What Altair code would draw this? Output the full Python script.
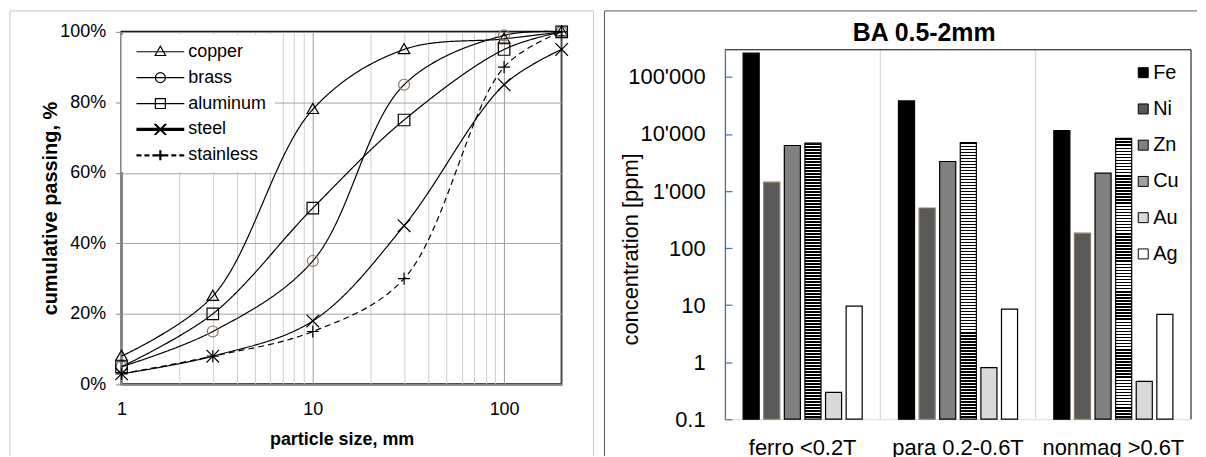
import altair as alt
import pandas as pd

# ---------------- data: left panel (particle size distribution) ----------------
sizes = [1, 3, 10, 30, 100, 200]
series = ["copper", "brass", "aluminum", "steel", "stainless"]
copper = [8, 25, 78, 95, 98, 100]
brass = [5, 15, 35, 85, 99, 100]
aluminum = [5, 20, 50, 75, 95, 100]
steel = [3, 8, 18, 45, 85, 95]
stainless = [3, 8, 15, 30, 90, 100]

# ---------------- data: right panel (BA 0.5-2mm concentrations) ----------------
groups = ["ferro <0.2T", "para 0.2-0.6T", "nonmag >0.6T"]
elements = ["Fe", "Ni", "Zn", "Cu", "Au", "Ag"]
fe = [262000, 38000, 11500]
ni = [1430, 505, 183]
zn = [6300, 3300, 2060]
cu = [6900, 7100, 8400]
au = [0.295, 0.80, 0.46]
ag = [9.6, 8.5, 6.9]

x_ticks = [1, 2, 3, 4, 5, 6, 7, 8, 9, 10, 20, 30, 40, 50, 60, 70, 80, 90, 100, 200]
y_ticks = [0, 0.2, 0.4, 0.6, 0.8, 1.0]
log_ticks = [0.1, 1, 10, 100, 1000, 10000, 100000]
conc_domain = [0.1, 300000]
title_text = "BA 0.5-2mm"

FONT = "Liberation Sans"

rows = []
for name, vals in zip(series, [copper, brass, aluminum, steel, stainless]):
    for s, v in zip(sizes, vals):
        rows.append({"series": name, "size": s, "pct": v / 100})
psd = pd.DataFrame(rows)

brows = []
for e, vals in zip(elements, [fe, ni, zn, cu, au, ag]):
    for g, v in zip(groups, vals):
        brows.append({"group": g, "element": e, "value": v})
conc = pd.DataFrame(brows)
group_df = pd.DataFrame({"group": groups})

dummy = pd.DataFrame({"k": [0]})

# ---------------- styles ----------------
BRASS = "#8c7b62"
marker_paths = [
    "M0,-1.1L1.05,0.75L-1.05,0.75Z",
    "M1,0A1,1,0,1,1,-1,0A1,1,0,1,1,1,0Z",
    "M-1.05,-1.05H1.05V1.05H-1.05Z",
    "M-1.15,-1.15L1.15,1.15M-1.15,1.15L1.15,-1.15",
    "M-1.1,0H1.1M0,-1.1V1.1",
]


def dashes(y):
    segs = [(-4.8, -3.8), (-3.2, -2.2), (-1.6, -0.7), (0.7, 1.6), (2.2, 3.2), (3.8, 4.8)]
    return "".join(f"M{a},{y}H{b}" for a, b in segs)


legend_paths = [
    "M-4.8,0H4.8M0,-1.1L1.05,0.75L-1.05,0.75Z",
    "M-4.8,0H4.8M1,0A1,1,0,1,1,-1,0A1,1,0,1,1,1,0Z",
    "M-4.8,0H4.8M-1,-1H1V1H-1Z",
    "M-4.8,-0.2H4.8M-4.8,0H4.8M-4.8,0.2H4.8"
    "M-1.2,-1.1L1.0,1.1M-1.0,-1.1L1.2,1.1M-1.2,1.1L1.0,-1.1M-1.0,1.1L1.2,-1.1",
    dashes(-0.1) + dashes(0.1) + "M-1,-0.1H1M-1,0.1H1M-0.1,-1V1M0.1,-1V1",
]

LW, LH = 442, 354
RW, RH = 468, 389        # right view spans from the left plot's top; data range starts 18px lower
R_TOP = 18

x_enc = alt.X(
    "size:Q",
    scale=alt.Scale(type="log", domain=[1, 200], nice=False),
    axis=alt.Axis(
        values=x_ticks,
        labelExpr="indexof([1,10,100], datum.value) >= 0 ? format(datum.value, 'd') : ''",
        grid=True,
        gridColor={"condition": {"test": "indexof([1,10,100], datum.value) >= 0", "value": "#9a9a9a"},
                   "value": "#d0d0d0"},
        gridWidth=1,
        ticks=False,
        domainColor="#868686",
        domainWidth=2,
        labelFontSize=18,
        labelPadding=16,
        labelFlush=False,
        labelOverlap=False,
        title="particle size, mm",
        titleFontSize=18,
        titleFontWeight="bold",
        titleY=55,
        titleBaseline="middle",
    ),
)
y_enc = alt.Y(
    "pct:Q",
    scale=alt.Scale(domain=[0, 1], nice=False),
    axis=alt.Axis(
        values=y_ticks,
        format=".0%",
        grid=True,
        gridColor="#a6a6a6",
        tickColor="#868686",
        tickSize=6,
        domainColor="#868686",
        domainWidth=2,
        labelFontSize=18,
        labelPadding=10,
        title="cumulative passing, %",
        titleFontSize=20,
        titleFontWeight="bold",
        titleX=-71,
        titleBaseline="middle",
    ),
)

sw_scale = alt.Scale(domain=series, range=[1.2, 1.2, 1.2, 3, 2])

lines = alt.Chart(psd).mark_line(interpolate="catmull-rom", color="black").encode(
    x=x_enc, y=y_enc,
    detail="series:N",
    strokeWidth=alt.StrokeWidth("series:N", scale=sw_scale, legend=None),
    strokeDash=alt.StrokeDash("series:N", scale=alt.Scale(domain=series, range=[[1, 0], [1, 0], [1, 0], [1, 0], [6, 4]]), legend=None),
)

points = alt.Chart(psd).mark_point(filled=False, size=121, opacity=1).encode(
    x=x_enc, y=y_enc,
    shape=alt.Shape("series:N", scale=alt.Scale(domain=series, range=marker_paths), legend=None),
    stroke=alt.Stroke("series:N", scale=alt.Scale(domain=series, range=["black", BRASS, "black", "black", "black"]), legend=None),
    strokeWidth=alt.StrokeWidth("series:N", scale=sw_scale, legend=None),
)

legend_layer = alt.Chart(psd).mark_point(filled=False, size=100, opacity=0, color="black", strokeWidth=1.2).encode(
    x=x_enc, y=y_enc,
    shape=alt.Shape(
        "series:N",
        sort=series,
        scale=alt.Scale(domain=series, range=legend_paths),
        legend=alt.Legend(
            title=None, orient="none", legendX=0, legendY=3, padding=8,
            fillColor="white", labelFontSize=18, symbolSize=100,
            symbolOffset=22, labelOffset=19, rowPadding=8,
            symbolStrokeWidth=1.2, labelColor="black", labelLimit=300,
        ),
    ),
)

fr_color_l = "#c8c8c8"
frame_l = [
    alt.Chart(dummy).mark_rule(color=fr_color_l).encode(x=alt.value(-112), y=alt.value(-21), y2=alt.value(426)),
    alt.Chart(dummy).mark_rule(color=fr_color_l).encode(x=alt.value(-112), x2=alt.value(474), y=alt.value(-21)),
    alt.Chart(dummy).mark_rule(color=fr_color_l).encode(x=alt.value(474), y=alt.value(-21), y2=alt.value(426)),
]

left = alt.layer(*frame_l, lines, points, legend_layer).resolve_scale(shape="independent").properties(
    width=LW, height=LH, view=alt.ViewBackground(stroke="black", strokeWidth=2)
)

# ---------------- right panel ----------------
stops = []
n = 92
for i in range(n):
    a, b, c = i / n, (i + 0.5) / n, (i + 1) / n
    stops += [{"offset": a, "color": "#000000"}, {"offset": b, "color": "#000000"},
              {"offset": b, "color": "#ffffff"}, {"offset": c, "color": "#ffffff"}]
cu_pattern = {"gradient": "linear", "x1": 0, "y1": 0, "x2": 0, "y2": 1, "stops": stops}

fills = ["#000000", "#595959", "#808080", "#a0a0a0", "#d9d9d9", "#ffffff"]
strokes = ["#000000", "#595959", "#808080", "#000000", "#000000", "#000000"]
BLUE = "#4a70a8"

leg_r = dict(title=None, orient="none", legendX=1013, legendY=28, padding=3, labelFontSize=20,
             symbolType="square", symbolSize=100, symbolOffset=0, labelOffset=0,
             rowPadding=16.4, symbolStrokeWidth=1, symbolStrokeColor="black", labelColor="black")

x_axis_r = alt.Axis(title=None, labelAngle=0, labelFontSize=22, ticks=False,
                    domainColor="#d9d9d9", grid=False, bandPosition=0.5,
                    labelPadding=18, labelColor="black")
x_scale_r = alt.Scale(paddingInner=0, paddingOuter=0)
yr_scale = alt.Scale(type="log", domain=conc_domain, nice=False, range=[RH, R_TOP])

bars = alt.Chart(conc).mark_bar(strokeWidth=1.2).encode(
    x=alt.X("group:N", sort=groups, scale=x_scale_r, axis=x_axis_r),
    xOffset=alt.XOffset("element:N", sort=elements,
                        scale=alt.Scale(paddingInner=0.22, paddingOuter=0.88)),
    y=alt.Y("value:Q", scale=yr_scale,
            axis=alt.Axis(values=log_ticks,
                          labelExpr="replace(format(datum.value, ','), regexp(',', 'g'), \"'\")",
                          labelFontSize=22, ticks=False, labelPadding=20,
                          domainColor=BLUE, domainWidth=1.2,
                          grid=True, gridColor=BLUE, gridDash=[7, 2000], gridWidth=1.2,
                          title="concentration [ppm]", titleFontSize=22, titleFontWeight="normal",
                          titleX=-95, titleY=218, titleBaseline="middle", labelColor="black",
                          zindex=1)),
    y2=alt.datum(conc_domain[0]),
    fill=alt.condition("datum.element == 'Cu'", alt.value(cu_pattern),
                       alt.Fill("element:N", sort=elements,
                                scale=alt.Scale(domain=elements, range=fills),
                                legend=alt.Legend(**leg_r))),
    stroke=alt.Stroke("element:N", sort=elements, scale=alt.Scale(domain=elements, range=strokes),
                      legend=alt.Legend(**leg_r)),
)

# category separators (Excel category gridlines) at band starts
separators = alt.Chart(group_df).mark_rule(color="#d9d9d9", strokeWidth=1.2).encode(
    x=alt.X("group:N", sort=groups, bandPosition=0, scale=x_scale_r, axis=x_axis_r),
    y=alt.datum(conc_domain[1]), y2=alt.datum(conc_domain[0]),
)

plot_top = alt.Chart(dummy).mark_rule(color="black").encode(
    x=alt.value(0), x2=alt.value(RW), y=alt.datum(conc_domain[1]))
plot_right = alt.Chart(dummy).mark_rule(color="black").encode(
    x=alt.value(RW), y=alt.datum(conc_domain[1]), y2=alt.datum(conc_domain[0]))

fr_color_r = "#595959"
frame_r = [
    alt.Chart(dummy).mark_rule(color=fr_color_r).encode(x=alt.value(-121), y=alt.value(-21), y2=alt.value(426)),
    alt.Chart(dummy).mark_rule(color=fr_color_r).encode(x=alt.value(-121), x2=alt.value(474), y=alt.value(-21)),
]
title_mark = alt.Chart(dummy).mark_text(
    fontSize=25, fontWeight="bold", align="center", baseline="alphabetic", color="black"
).encode(x=alt.value(200), y=alt.value(9), text=alt.value(title_text))

right = alt.layer(bars, separators, plot_top, plot_right, title_mark, *frame_r).properties(
    width=RW, height=RH,
    view=alt.ViewBackground(stroke="transparent"),
)

chart = alt.hconcat(left, right, spacing=8).properties(padding=0).configure(
    font=FONT
).configure_axis(labelFont=FONT, titleFont=FONT, titleColor="black")

chart.save("out.html", embed_options={"renderer": "svg", "actions": False})
